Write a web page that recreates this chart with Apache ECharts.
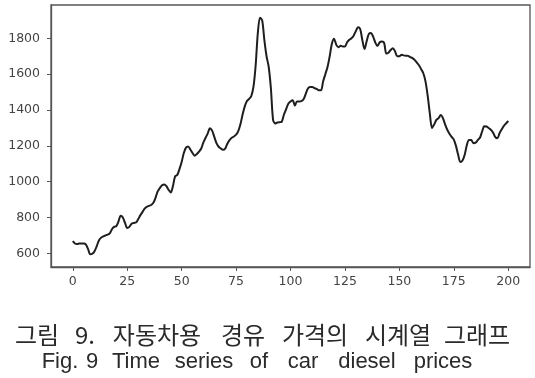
<!DOCTYPE html>
<html>
<head>
<meta charset="utf-8">
<script src="https://cdn.jsdelivr.net/npm/echarts@6/dist/echarts.min.js"></script>
<style>
html,body{margin:0;padding:0;background:#fff;}
#chart{width:535px;height:378px;}
</style>
</head>
<body>
<div id="chart"></div>
<script>
// ---- data ----
const xTicks = [0, 25, 50, 75, 100, 125, 150, 175, 200];
const yTicks = [600, 800, 1000, 1200, 1400, 1600, 1800];
const prices = [
  668, 655, 652, 655, 655, 655, 650, 625, 595, 598,
  612, 640, 672, 688, 695, 700, 705, 712, 735, 748,
  752, 778, 810, 800, 770, 742, 748, 765, 770, 772,
  790, 812, 830, 850, 860, 865, 870, 882, 910, 946,
  965, 980, 985, 975, 955, 940, 975, 1030, 1038, 1070,
  1110, 1160, 1190, 1197, 1180, 1160, 1145, 1155, 1168, 1185,
  1220, 1245, 1270, 1298, 1285, 1250, 1215, 1195, 1185, 1178,
  1185, 1212, 1232, 1245, 1252, 1262, 1282, 1320, 1375, 1420,
  1450, 1462, 1478, 1530, 1650, 1830, 1915, 1900, 1790, 1700,
  1640, 1520, 1345, 1325, 1330, 1332, 1335, 1375, 1405, 1435,
  1448, 1455, 1425, 1448, 1448, 1450, 1460, 1490, 1520, 1528,
  1528, 1522, 1518, 1510, 1510, 1560, 1600, 1640, 1700, 1770,
  1798, 1765, 1750, 1758, 1755, 1755, 1778, 1792, 1800, 1815,
  1840, 1862, 1852, 1790, 1740, 1785, 1825, 1830, 1808, 1775,
  1758, 1778, 1782, 1775, 1715, 1720, 1735, 1745, 1728, 1700,
  1700, 1708, 1705, 1703, 1702, 1695, 1690, 1680, 1665, 1650,
  1628, 1605, 1560, 1480, 1380, 1300, 1320, 1345, 1355, 1372,
  1355, 1320, 1290, 1268, 1250, 1235, 1200, 1150, 1110, 1118,
  1150, 1205, 1232, 1232, 1215, 1218, 1232, 1245, 1280, 1310,
  1308, 1300, 1290, 1275, 1250, 1242, 1270, 1292, 1312, 1325,
  1340
];
const captionKo = ['그림', '9.', '자동차용', '경유', '가격의', '시계열', '그래프'];
const captionEn = ['Fig.', '9', 'Time', 'series', 'of', 'car', 'diesel', 'prices'];

// ---- layout ----
const koCenters = [37, 85, 157, 243, 315, 398, 477];
const enCenters = [60, 92, 136, 204, 259, 303, 367, 443];

const seriesData = prices.map((v, i) => [i, v]);

const graphics = [];
captionKo.forEach((w, i) => graphics.push({
  type: 'text', x: koCenters[i], y: 335,
  style: { text: w, fill: '#2a2a2a', font: '24px "Noto Sans CJK KR"', textAlign: 'center', textVerticalAlign: 'middle' }
}));
captionEn.forEach((w, i) => graphics.push({
  type: 'text', x: enCenters[i], y: 362,
  style: { text: w, fill: '#2a2a2a', font: '22px "Liberation Sans"', textAlign: 'center', textVerticalAlign: 'middle' }
}));

const plain = v => String(v);

const chart = echarts.init(document.getElementById('chart'), null, { renderer: 'canvas' });
chart.setOption({
  animation: false,
  backgroundColor: '#fff',
  grid: { left: 51, top: 5, right: 5, bottom: 111, show: true, borderColor: '#555', borderWidth: 1.3, containLabel: false, outerBoundsMode: 'none' },
  xAxis: {
    type: 'value', min: -10, max: 210,
    axisLine: { show: true, onZero: false, lineStyle: { color: '#555', width: 1.3 } },
    axisTick: { show: true, inside: false, length: 4, customValues: xTicks, lineStyle: { color: '#555' } },
    axisLabel: { customValues: xTicks, formatter: plain, margin: 8, color: '#444', fontFamily: 'DejaVu Sans', fontSize: 12.5 },
    splitLine: { show: false }
  },
  yAxis: {
    type: 'value', min: 524, max: 1986,
    axisLine: { show: true, onZero: false, lineStyle: { color: '#555', width: 1.3 } },
    axisTick: { show: true, inside: false, length: 4, customValues: yTicks, lineStyle: { color: '#555' } },
    axisLabel: { customValues: yTicks, formatter: plain, margin: 11, color: '#444', fontFamily: 'DejaVu Sans', fontSize: 12.5 },
    splitLine: { show: false }
  },
  series: [{
    type: 'line', data: seriesData, showSymbol: false, symbol: 'none',
    lineStyle: { color: '#1e1e1e', width: 2 }, smooth: 0.3
  }],
  graphic: graphics
});
</script>
</body>
</html>
